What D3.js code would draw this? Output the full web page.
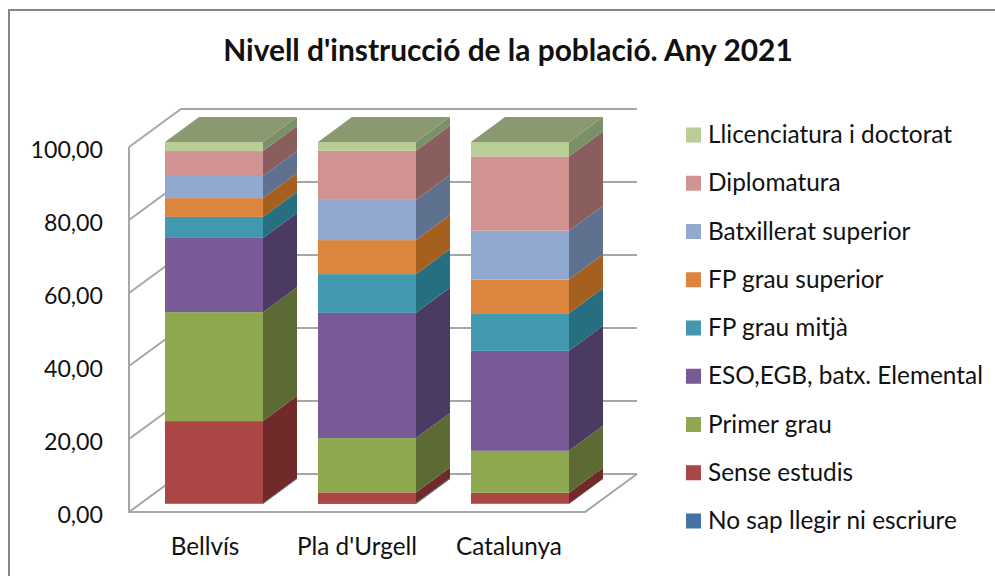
<!DOCTYPE html>
<html>
<head>
<meta charset="utf-8">
<script src="https://cdn.jsdelivr.net/npm/d3@7"></script>
<style>
    html, body { margin: 0; padding: 0; background: #fff; }
    svg { display: block; }
    text { font-family: Lato, "Open Sans", sans-serif; fill: #111; }
</style>
</head>
<body>
<div id="chart"></div>
<script>
var categories = ["Bellvís", "Pla d'Urgell", "Catalunya"];

// bottom to top, same order as the stack
var seriesNames = ["No sap llegir ni escriure", "Sense estudis", "Primer grau", "ESO,EGB, batx. Elemental",
    "FP grau mitjà", "FP grau superior", "Batxillerat superior", "Diplomatura", "Llicenciatura i doctorat"];

var noSap = [0.2, 0.3, 0.1];
var senseEstudis = [22.7, 2.9, 3.0];
var primerGrau = [30.1, 15.0, 11.6];
var eso = [20.5, 34.6, 27.6];
var fpMitja = [5.8, 10.7, 10.4];
var fpSuperior = [5.2, 9.4, 9.3];
var batxillerat = [6.1, 11.1, 13.5];
var diplomatura = [6.9, 13.6, 20.5];
var llicenciatura = [2.5, 2.4, 4.0];

var seriesValues = [noSap, senseEstudis, primerGrau, eso, fpMitja, fpSuperior, batxillerat, diplomatura, llicenciatura];

var tickValues = [0, 20, 40, 60, 80, 100];

var frontColors = ["#4572a7", "#aa4643", "#8ea84f", "#775a96", "#4198af", "#dc853e", "#92a9cf", "#d19392", "#b9cd96"];
var sideColors = ["#2f4d72", "#6f2a29", "#5b6b33", "#4b3a62", "#256f80", "#a5601f", "#5e7290", "#8b5e5e", "#7a9068"];
var topColor = "#8b9970";

var w = 995,
    h = 576;

var canvas = d3.select("#chart")
    .append("svg")
    .attr("width", w)
    .attr("height", h);

// only the left and top edges of the frame are in the picture
canvas.append("path")
    .attr("d", "M9,576V10H995")
    .attr("fill", "none")
    .attr("stroke", "#868686")
    .attr("stroke-width", 2);

canvas.append("text")
    .attr("x", 508)
    .attr("y", 61)
    .attr("text-anchor", "middle")
    .style("font-size", "29.9px")
    .style("font-weight", "bold")
    .text("Nivell d'instrucció de la població. Any 2021");

// axis scale (front plane of the box) and bar scale (bars sit further in)
var yAxisScale = d3.scaleLinear().domain([0, 100]).range([512, 147]);
var yBar = d3.scaleLinear().domain([0, 100]).range([504, 142]);
var xAxisScale = d3.scaleBand().domain(categories).range([129, 585]);
var xBar = d3.scalePoint().domain(categories).range([165, 471]);

var wallDx = 52,
    wallDy = -38,
    barW = 98,
    barDx = 34,
    barDy = -25,
    gridColor = "#a6a6a6";

// walls and gridlines
var grid = canvas.append("g")
    .attr("fill", "none")
    .attr("stroke", gridColor)
    .attr("stroke-width", 2);

grid.selectAll("path")
    .data(tickValues)
    .enter()
    .append("path")
    .attr("d", function (d) {
        var y = yAxisScale(d);
        return "M129," + y + "L" + (129 + wallDx) + "," + (y + wallDy) + "H" + (585 + wallDx);
    });

grid.append("path")
    .attr("d", "M129," + yAxisScale(100) + "V" + yAxisScale(0) + "H585L" + (585 + wallDx) + "," + (yAxisScale(0) + wallDy));

// y axis labels
var commaFormat = d3.formatLocale({ decimal: ",", thousands: ".", grouping: [3], currency: ["", ""] }).format(".2f");

var yAxis = canvas.append("g")
    .attr("transform", "translate(129,3)")
    .call(d3.axisLeft(yAxisScale).tickValues(tickValues).tickFormat(commaFormat).tickSize(0).tickPadding(26));
yAxis.select(".domain").remove();
yAxis.selectAll("text").style("font-size", "23.2px").style("font-family", "Lato, sans-serif").attr("fill", "#111");

// x axis labels
var xAxis = canvas.append("g")
    .attr("transform", "translate(0,512)")
    .call(d3.axisBottom(xAxisScale).tickSize(0).tickPadding(26));
xAxis.select(".domain").remove();
xAxis.selectAll("text").style("font-size", "24.3px").style("font-family", "Lato, sans-serif").attr("fill", "#111");

// stacked 3d bars
var table = categories.map(function (c, i) {
    var row = { category: c };
    seriesNames.forEach(function (s, k) {
        row[s] = seriesValues[k][i];
    });
    return row;
});

var stacked = d3.stack().keys(seriesNames)(table);

stacked.forEach(function (layer, k) {
    var g = canvas.append("g");

    g.selectAll(".side")
        .data(layer)
        .enter()
        .append("path")
        .attr("class", "side")
        .attr("fill", sideColors[k])
        .attr("d", function (d) {
            var x = xBar(d.data.category) + barW;
            return "M" + x + "," + yBar(d[0]) +
                "L" + (x + barDx) + "," + (yBar(d[0]) + barDy) +
                "V" + (yBar(d[1]) + barDy) +
                "L" + x + "," + yBar(d[1]) + "Z";
        });

    g.selectAll(".front")
        .data(layer)
        .enter()
        .append("rect")
        .attr("class", "front")
        .attr("fill", frontColors[k])
        .attr("x", function (d) { return xBar(d.data.category); })
        .attr("y", function (d) { return yBar(d[1]); })
        .attr("width", barW)
        .attr("height", function (d) { return yBar(d[0]) - yBar(d[1]); });
});

// top faces
canvas.append("g")
    .selectAll("path")
    .data(categories)
    .enter()
    .append("path")
    .attr("fill", topColor)
    .attr("d", function (c) {
        var x = xBar(c),
            y = yBar(100);
        return "M" + x + "," + y + "H" + (x + barW) +
            "L" + (x + barW + barDx) + "," + (y + barDy) +
            "H" + (x + barDx) + "Z";
    });

// legend, top entry is the last series
var legendY = d3.scalePoint()
    .domain(seriesNames.slice().reverse())
    .range([135, 521]);

var legend = canvas.append("g")
    .selectAll("g")
    .data(seriesNames)
    .enter()
    .append("g")
    .attr("transform", function (d) {
        return "translate(686," + legendY(d) + ")";
    });

legend.append("rect")
    .attr("x", 0)
    .attr("y", -7.5)
    .attr("width", 15)
    .attr("height", 15)
    .attr("fill", function (d, i) { return frontColors[i]; });

legend.append("text")
    .attr("x", 22)
    .attr("y", 8)
    .style("font-size", "24.4px")
    .text(function (d) { return d; });
</script>
</body>
</html>
